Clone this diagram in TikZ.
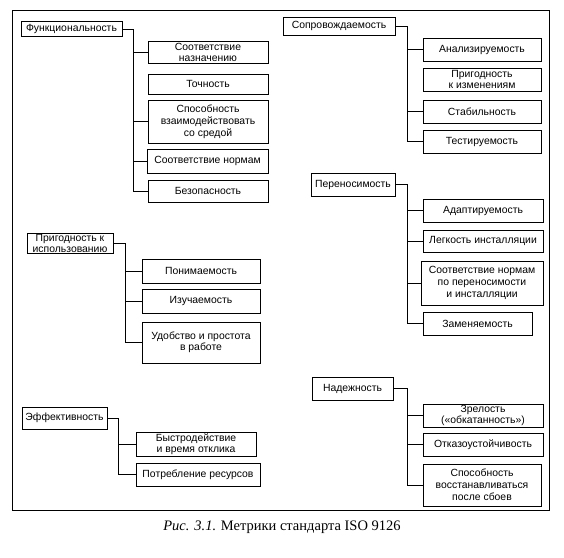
\documentclass[tikz,border=0pt]{standalone}
\usepackage{fontspec}
\setmainfont{Liberation Sans}
\newfontfamily\capfont{Liberation Serif}
\tikzset{
  frame/.style={draw=black, line width=0.9pt},
  metric/.style={draw=black, line width=0.8pt, inner sep=0.5pt, align=center,
    font=\fontsize{10.4}{11}\selectfont},
  sub/.style={metric, minimum width=120pt, minimum height=23pt},
  link/.style={draw=black, line width=0.6pt},
  caption/.style={font=\capfont\fontsize{14.5}{16}\selectfont},
}

\begin{document}
\begin{tikzpicture}[x=1pt, y=-1pt]
\useasboundingbox (0,0) rectangle (564,557);
\draw[frame] (12,10) rectangle (549,510);
% functionality
\node[metric, minimum width=101pt, minimum height=15pt] (fn) at (71.5,29) {Функциональность};
\node[sub, minimum height=22pt] (fn1) at (208,52) {Соответствие\\назначению};
\node[sub, minimum height=20pt] (fn2) at (208,84) {Точность};
\node[sub, minimum height=43pt, font=\fontsize{10.4}{12}\selectfont] (fn3) at (208,121.5) {Способность\\взаимодействовать\\со средой};
\node[sub, minimum width=121pt, minimum height=24pt] (fn4) at (207.5,161) {Соответствие нормам};
\node[sub, minimum height=22pt] (fn5) at (208,191) {Безопасность};
\coordinate (fnt) at (133,0);
\draw[link] (fn.east) -| (fnt |- fn5.west) -- (fn5.west);
\draw[link] (fnt |- fn1.west) -- (fn1.west);
\draw[link] (fnt |- fn3.west) -- (fn3.west);
\draw[link] (fnt |- fn4.west) -- (fn4.west);
% usability
\node[metric, minimum width=86pt, minimum height=20pt] (us) at (70,243) {Пригодность к\\использованию};
\node[sub, minimum width=118pt, minimum height=24pt] (us1) at (201,271) {Понимаемость};
\node[sub, minimum width=118pt, minimum height=24pt] (us2) at (201,301) {Изучаемость};
\node[sub, minimum width=118pt, minimum height=41pt] (us3) at (201,342.5) {Удобство и простота\\в работе};
\coordinate (ust) at (125,0);
\draw[link] (us.east) -| (ust |- us3.west) -- (us3.west);
\draw[link] (ust |- us1.west) -- (us1.west);
\draw[link] (ust |- us2.west) -- (us2.west);
% efficiency
\node[metric, minimum width=85pt, minimum height=22pt] (ef) at (64.5,418) {Эффективность};
\node[sub, minimum height=24pt] (ef1) at (196,444) {Быстродействие\\и время отклика};
\node[sub, minimum width=124pt] (ef2) at (198,474.5) {Потребление ресурсов};
\coordinate (eft) at (118,0);
\draw[link] (ef.east) -| (eft |- ef2.west) -- (ef2.west);
\draw[link] (eft |- ef1.west) -- (ef1.west);
% maintainability
\node[metric, minimum width=112pt, minimum height=18pt] (ma) at (339,26) {Сопровождаемость};
\node[sub, minimum width=118pt] (ma1) at (482,49.5) {Анализируемость};
\node[sub, minimum width=118pt] (ma2) at (482,79.5) {Пригодность\\к изменениям};
\node[sub, minimum width=118pt] (ma3) at (482,111.5) {Стабильность};
\node[sub, minimum width=118pt] (ma4) at (482,141.5) {Тестируемость};
\coordinate (mat) at (407,0);
\draw[link] (ma.east) -| (mat |- ma4.west) -- (ma4.west);
\draw[link] (mat |- ma1.west) -- (ma1.west);
\draw[link] (mat |- ma3.west) -- (ma3.west);
% portability
\node[metric, minimum width=84pt, minimum height=23pt] (po) at (353,184.5) {Переносимость};
\node[sub] (po1) at (483,210.5) {Адаптируемость};
\node[sub, minimum height=22pt] (po2) at (483,241) {Легкость инсталляции};
\node[sub, minimum width=122pt, minimum height=44pt, font=\fontsize{10.4}{12}\selectfont] (po3) at (482,283) {Соответствие нормам\\по переносимости\\и инсталляции};
\node[sub, minimum width=109pt] (po4) at (477.5,323.5) {Заменяемость};
\coordinate (pot) at (407,0);
\draw[link] (po.east) -| (pot |- po4.west) -- (po4.west);
\draw[link] (pot |- po1.west) -- (po1.west);
\draw[link] (pot |- po2.west) -- (po2.west);
\draw[link] (pot |- po3.west) -- (po3.west);
% reliability
\node[metric, minimum width=81pt, minimum height=23pt] (re) at (352.5,388.5) {Надежность};
\node[sub] (re1) at (483,415.5) {Зрелость\\(«обкатанность»)};
\node[sub] (re2) at (483,444.5) {Отказоустойчивость};
\node[sub, minimum width=118pt, minimum height=42pt, font=\fontsize{10.4}{12}\selectfont] (re3) at (482,485) {Способность\\восстанавливаться\\после сбоев};
\coordinate (ret) at (407,0);
\draw[link] (re.east) -| (ret |- re3.west) -- (re3.west);
\draw[link] (ret |- re1.west) -- (re1.west);
\draw[link] (ret |- re2.west) -- (re2.west);
% caption
\node[caption] (cap) at (282,527) {\textit{Рис. 3.1.} Метрики стандарта ISO 9126};
\end{tikzpicture}
\end{document}
